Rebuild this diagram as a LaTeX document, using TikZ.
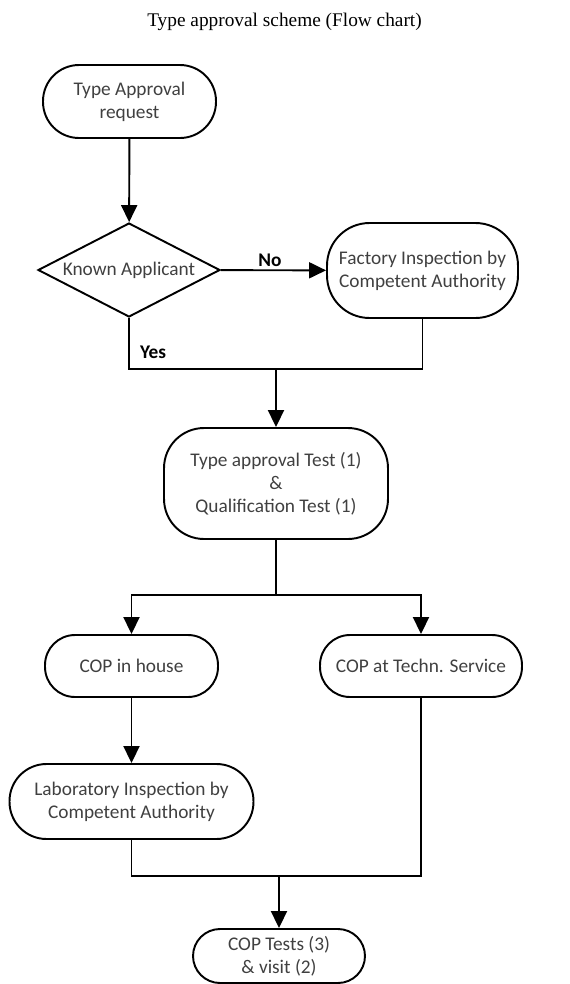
\documentclass[tikz,border=0pt]{standalone}
\usepackage{fontspec}
\setmainfont{Carlito}
\newfontfamily\titlefont{Liberation Serif}
\usetikzlibrary{arrows.meta, calc, positioning, shapes.geometric}
\tikzset{%
  every path/.style={line width=1.1pt},
    edge/.style={%
        -{Triangle[length=0.34cm, width=0.32cm]},
    },
    terminal/.style={%
        rectangle,
        draw=black, line width=1.1pt,
        rounded corners=0.6cm,
        align=center,
        text=black!75,
        font=\fontsize{11}{13.2}\selectfont,
    },
    decision/.style={%
        diamond,
        aspect=1.94,
        draw=black, line width=1.1pt,
        inner sep=0pt,
        text=black!75,
        font=\fontsize{11}{13.2}\selectfont,
    },
    answer/.style={%
        font=\fontsize{11}{13.2}\selectfont\bfseries,
        inner sep=1pt,
    },
}

\begin{document}
\begin{tikzpicture}[x=0.02cm, y=-0.02cm]
	\useasboundingbox (0,0) rectangle (569,984);

	\node [font=\titlefont\fontsize{11}{13}\selectfont] (title) at (284.5, 22) {Type approval scheme (Flow chart)};

	\node [terminal, minimum width=3.46cm, minimum height=1.46cm, rounded corners=0.72cm] (request) at (129.5, 101.5) {Type Approval\\request};
	\node [decision, minimum width=3.64cm, minimum height=1.88cm] (known) at (129, 270) {Known Applicant};
	\node [terminal, minimum width=3.82cm, minimum height=1.9cm, rounded corners=0.85cm] (factory) at (422.5, 270.5) {Factory Inspection by\\Competent Authority};
	\node [terminal, minimum width=4.48cm, minimum height=2.22cm, rounded corners=0.8cm] (test) at (276, 483.5) {Type approval Test (1)\\\&\\Qualification Test (1)};
	\node [terminal, minimum width=3.46cm, minimum height=1.24cm] (inhouse) at (131.5, 666) {COP in house};
	\node [terminal, minimum width=4.04cm, minimum height=1.24cm] (techn) at (421, 666) {COP at Techn. Service};
	\node [terminal, minimum width=4.88cm, minimum height=1.5cm, rounded corners=0.74cm] (lab) at (131.5, 801.5) {Laboratory Inspection by\\Competent Authority};
	\node [terminal, minimum width=3.44cm, minimum height=1.08cm, rounded corners=0.54cm] (cop) at (279, 956) {COP Tests (3)\\\& visit (2)};

	\coordinate (join1) at (276, 369);
	\coordinate (split) at (276, 595);
	\coordinate (join2) at (279, 876);

	\draw[edge] (request) -- (known);
	\draw[edge] (known) -- (factory);
	\node [answer] (no) at (270, 260) {No};
	\draw (known.south) |- (join1) -| (factory.south);
	\node [answer] (yes) at (153, 352) {Yes};
	\draw[edge] (join1) -- (test);

	\draw (test) -- (split);
	\draw[edge] (split) -| (inhouse);
	\draw[edge] (split) -| (techn);
	\draw[edge] (inhouse) -- (lab);
	\draw (lab.south) |- (join2) -| (techn.south);
	\draw[edge] (join2) -- (cop);
\end{tikzpicture}
\end{document}
